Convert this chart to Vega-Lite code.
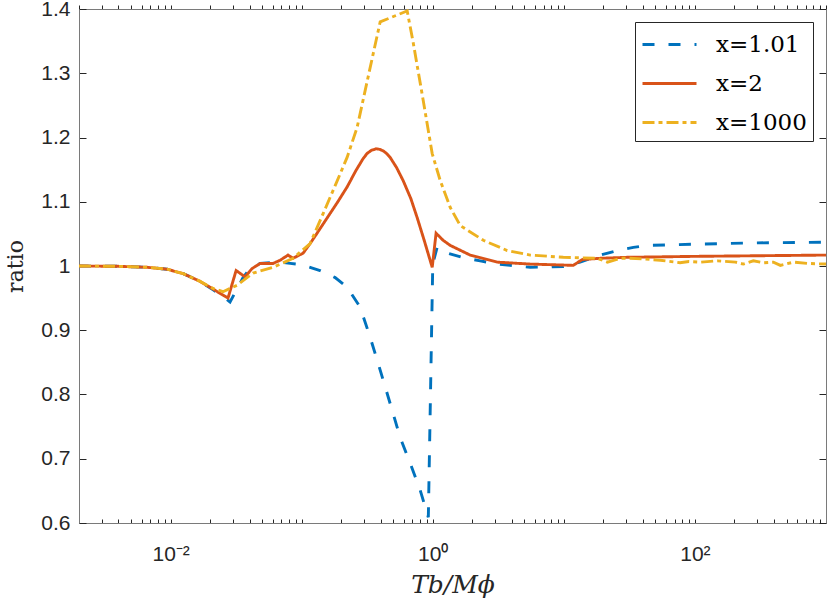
{
  "$schema": "https://vega.github.io/schema/vega-lite/v6.json",
  "width": 747,
  "height": 514,
  "autosize": {"type": "none"},
  "padding": {"left": 79, "top": 9, "right": 4, "bottom": 80},
  "background": "white",
  "config": {
    "view": {"stroke": "#7a7a7a", "strokeWidth": 1},
    "axis": {
      "grid": false,
      "domainColor": "#7a7a7a",
      "tickColor": "#262626",
      "labelColor": "#262626",
      "labelFont": "Liberation Sans",
      "labelFontSize": 21,
      "titleFont": "DejaVu Serif",
      "titleFontWeight": "normal",
      "titleColor": "#262626"
    }
  },
  "data": {
    "values": [
      {"s": "x=1.01", "t": 0.002, "r": 1.0},
      {"s": "x=1.01", "t": 0.004, "r": 0.9995},
      {"s": "x=1.01", "t": 0.0066, "r": 0.998},
      {"s": "x=1.01", "t": 0.0094, "r": 0.995},
      {"s": "x=1.01", "t": 0.0125, "r": 0.988},
      {"s": "x=1.01", "t": 0.0168, "r": 0.976},
      {"s": "x=1.01", "t": 0.0211, "r": 0.963},
      {"s": "x=1.01", "t": 0.0251, "r": 0.953},
      {"s": "x=1.01", "t": 0.0284, "r": 0.944},
      {"s": "x=1.01", "t": 0.0357, "r": 0.982},
      {"s": "x=1.01", "t": 0.0404, "r": 0.996},
      {"s": "x=1.01", "t": 0.0482, "r": 1.004},
      {"s": "x=1.01", "t": 0.0685, "r": 1.006},
      {"s": "x=1.01", "t": 0.0817, "r": 1.004},
      {"s": "x=1.01", "t": 0.1, "r": 1.002},
      {"s": "x=1.01", "t": 0.138, "r": 0.993},
      {"s": "x=1.01", "t": 0.18, "r": 0.982},
      {"s": "x=1.01", "t": 0.222, "r": 0.967},
      {"s": "x=1.01", "t": 0.279, "r": 0.936},
      {"s": "x=1.01", "t": 0.333, "r": 0.889},
      {"s": "x=1.01", "t": 0.397, "r": 0.838},
      {"s": "x=1.01", "t": 0.473, "r": 0.786},
      {"s": "x=1.01", "t": 0.564, "r": 0.733},
      {"s": "x=1.01", "t": 0.673, "r": 0.693},
      {"s": "x=1.01", "t": 0.802, "r": 0.651},
      {"s": "x=1.01", "t": 0.906, "r": 0.615},
      {"s": "x=1.01", "t": 0.925, "r": 0.609},
      {"s": "x=1.01", "t": 1.0, "r": 1.003},
      {"s": "x=1.01", "t": 1.08, "r": 1.029},
      {"s": "x=1.01", "t": 1.3, "r": 1.02},
      {"s": "x=1.01", "t": 1.71, "r": 1.013},
      {"s": "x=1.01", "t": 2.3, "r": 1.008},
      {"s": "x=1.01", "t": 3.1, "r": 1.003},
      {"s": "x=1.01", "t": 5.54, "r": 0.998},
      {"s": "x=1.01", "t": 9.9, "r": 0.999},
      {"s": "x=1.01", "t": 13.3, "r": 1.006},
      {"s": "x=1.01", "t": 19, "r": 1.017},
      {"s": "x=1.01", "t": 25.6, "r": 1.024},
      {"s": "x=1.01", "t": 33.9, "r": 1.029},
      {"s": "x=1.01", "t": 43.4, "r": 1.032},
      {"s": "x=1.01", "t": 100, "r": 1.034},
      {"s": "x=1.01", "t": 300, "r": 1.036},
      {"s": "x=1.01", "t": 1000, "r": 1.037},

      {"s": "x=2", "t": 0.002, "r": 1.0},
      {"s": "x=2", "t": 0.004, "r": 0.9995},
      {"s": "x=2", "t": 0.0066, "r": 0.998},
      {"s": "x=2", "t": 0.0094, "r": 0.995},
      {"s": "x=2", "t": 0.0125, "r": 0.988},
      {"s": "x=2", "t": 0.0168, "r": 0.976},
      {"s": "x=2", "t": 0.0211, "r": 0.964},
      {"s": "x=2", "t": 0.0274, "r": 0.95},
      {"s": "x=2", "t": 0.0316, "r": 0.993},
      {"s": "x=2", "t": 0.037, "r": 0.983},
      {"s": "x=2", "t": 0.0418, "r": 0.996},
      {"s": "x=2", "t": 0.0482, "r": 1.004},
      {"s": "x=2", "t": 0.0605, "r": 1.004},
      {"s": "x=2", "t": 0.0685, "r": 1.009},
      {"s": "x=2", "t": 0.0787, "r": 1.017},
      {"s": "x=2", "t": 0.086, "r": 1.012},
      {"s": "x=2", "t": 0.1025, "r": 1.02},
      {"s": "x=2", "t": 0.116, "r": 1.035},
      {"s": "x=2", "t": 0.13, "r": 1.05},
      {"s": "x=2", "t": 0.165, "r": 1.082},
      {"s": "x=2", "t": 0.19, "r": 1.101},
      {"s": "x=2", "t": 0.222, "r": 1.123},
      {"s": "x=2", "t": 0.26, "r": 1.149},
      {"s": "x=2", "t": 0.294, "r": 1.167},
      {"s": "x=2", "t": 0.315, "r": 1.175},
      {"s": "x=2", "t": 0.34, "r": 1.18},
      {"s": "x=2", "t": 0.37, "r": 1.1825},
      {"s": "x=2", "t": 0.395, "r": 1.1815},
      {"s": "x=2", "t": 0.42, "r": 1.179},
      {"s": "x=2", "t": 0.445, "r": 1.175},
      {"s": "x=2", "t": 0.473, "r": 1.169},
      {"s": "x=2", "t": 0.53, "r": 1.153},
      {"s": "x=2", "t": 0.594, "r": 1.133},
      {"s": "x=2", "t": 0.68, "r": 1.105},
      {"s": "x=2", "t": 0.761, "r": 1.075},
      {"s": "x=2", "t": 0.86, "r": 1.04},
      {"s": "x=2", "t": 0.99, "r": 0.998},
      {"s": "x=2", "t": 1.06, "r": 1.051},
      {"s": "x=2", "t": 1.2, "r": 1.04},
      {"s": "x=2", "t": 1.36, "r": 1.032},
      {"s": "x=2", "t": 1.93, "r": 1.017},
      {"s": "x=2", "t": 3.1, "r": 1.006},
      {"s": "x=2", "t": 5.54, "r": 1.003},
      {"s": "x=2", "t": 11.8, "r": 1.001},
      {"s": "x=2", "t": 13.8, "r": 1.01},
      {"s": "x=2", "t": 19, "r": 1.012},
      {"s": "x=2", "t": 30, "r": 1.0135},
      {"s": "x=2", "t": 100, "r": 1.015},
      {"s": "x=2", "t": 1000, "r": 1.017},

      {"s": "x=1000", "t": 0.002, "r": 1.0},
      {"s": "x=1000", "t": 0.004, "r": 0.9995},
      {"s": "x=1000", "t": 0.0066, "r": 0.998},
      {"s": "x=1000", "t": 0.0094, "r": 0.995},
      {"s": "x=1000", "t": 0.0125, "r": 0.988},
      {"s": "x=1000", "t": 0.0168, "r": 0.976},
      {"s": "x=1000", "t": 0.0211, "r": 0.965},
      {"s": "x=1000", "t": 0.0251, "r": 0.96},
      {"s": "x=1000", "t": 0.0321, "r": 0.97},
      {"s": "x=1000", "t": 0.0426, "r": 0.989},
      {"s": "x=1000", "t": 0.0605, "r": 0.998},
      {"s": "x=1000", "t": 0.086, "r": 1.012},
      {"s": "x=1000", "t": 0.116, "r": 1.035},
      {"s": "x=1000", "t": 0.146, "r": 1.082},
      {"s": "x=1000", "t": 0.18, "r": 1.125},
      {"s": "x=1000", "t": 0.222, "r": 1.169},
      {"s": "x=1000", "t": 0.265, "r": 1.216},
      {"s": "x=1000", "t": 0.321, "r": 1.294},
      {"s": "x=1000", "t": 0.397, "r": 1.38},
      {"s": "x=1000", "t": 0.638, "r": 1.397},
      {"s": "x=1000", "t": 0.71, "r": 1.347},
      {"s": "x=1000", "t": 0.845, "r": 1.258},
      {"s": "x=1000", "t": 0.99, "r": 1.175},
      {"s": "x=1000", "t": 1.08, "r": 1.149},
      {"s": "x=1000", "t": 1.14, "r": 1.133},
      {"s": "x=1000", "t": 1.36, "r": 1.091},
      {"s": "x=1000", "t": 1.62, "r": 1.063},
      {"s": "x=1000", "t": 2.43, "r": 1.04},
      {"s": "x=1000", "t": 3.7, "r": 1.024},
      {"s": "x=1000", "t": 5.54, "r": 1.017},
      {"s": "x=1000", "t": 9.9, "r": 1.0136},
      {"s": "x=1000", "t": 18, "r": 1.012},
      {"s": "x=1000", "t": 21.5, "r": 1.006},
      {"s": "x=1000", "t": 27, "r": 1.012},
      {"s": "x=1000", "t": 32, "r": 1.012},
      {"s": "x=1000", "t": 40, "r": 1.011},
      {"s": "x=1000", "t": 54.5, "r": 1.009},
      {"s": "x=1000", "t": 77, "r": 1.005},
      {"s": "x=1000", "t": 90, "r": 1.007},
      {"s": "x=1000", "t": 110, "r": 1.006},
      {"s": "x=1000", "t": 148, "r": 1.008},
      {"s": "x=1000", "t": 204, "r": 1.006},
      {"s": "x=1000", "t": 234, "r": 1.003},
      {"s": "x=1000", "t": 279, "r": 1.008},
      {"s": "x=1000", "t": 333, "r": 1.005},
      {"s": "x=1000", "t": 397, "r": 1.006},
      {"s": "x=1000", "t": 449, "r": 1.001},
      {"s": "x=1000", "t": 565, "r": 1.006},
      {"s": "x=1000", "t": 721, "r": 1.004},
      {"s": "x=1000", "t": 1000, "r": 1.003}
    ]
  },
  "resolve": {"axis": {"x": "independent", "y": "independent"}},
  "layer": [
    {
      "mark": {"type": "line", "strokeWidth": 2.9, "clip": true, "strokeCap": "butt"},
      "encoding": {
        "x": {
          "field": "t", "type": "quantitative",
          "scale": {"type": "log", "domain": [0.002, 1000], "nice": false},
          "axis": {
            "orient": "bottom",
            "title": "Tb/Mϕ",
            "titleFontStyle": "italic",
            "titleFontSize": 25,
            "titlePadding": 8,
            "values": [0.002,0.003,0.004,0.005,0.006,0.007,0.008,0.009,0.01,0.02,0.03,0.04,0.05,0.06,0.07,0.08,0.09,0.1,0.2,0.3,0.4,0.5,0.6,0.7,0.8,0.9,1,2,3,4,5,6,7,8,9,10,20,30,40,50,60,70,80,90,100,200,300,400,500,600,700,800,900,1000],
            "labelExpr": "datum.value == 0.01 ? '10⁻²' : datum.value == 1 ? '10⁰' : datum.value == 100 ? '10²' : ''",
            "labelOverlap": false,
            "labelFlush": false,
            "tickSize": -4,
            "labelPadding": 24,
            "encode": {"ticks": {"y2": {"condition": {"test": "datum.value == 0.01 || datum.value == 1 || datum.value == 100", "value": -7}, "value": -4}}}
          }
        },
        "y": {
          "field": "r", "type": "quantitative",
          "scale": {"domain": [0.6, 1.4], "nice": false, "zero": false},
          "axis": {
            "orient": "left",
            "title": "ratio",
            "titleFontSize": 22,
            "titlePadding": 13,
            "values": [0.6,0.7,0.8,0.9,1,1.1,1.2,1.3,1.4],
            "format": "~g",
            "tickSize": -7,
            "labelPadding": 16
          }
        },
        "color": {
          "field": "s", "type": "nominal",
          "scale": {"domain": ["x=1.01", "x=2", "x=1000"], "range": ["#0072BD", "#D95319", "#EDB120"]},
          "legend": {
            "orient": "top-right",
            "offset": 13,
            "title": null,
            "strokeColor": "#262626",
            "fillColor": "white",
            "padding": 6,
            "labelFont": "DejaVu Serif",
            "labelFontSize": 23,
            "labelColor": "black",
            "labelOffset": 30,
            "symbolType": "M-1.8,0H1.8",
            "symbolSize": 900,
            "symbolOffset": 12,
            "symbolStrokeWidth": 2.9,
            "rowPadding": 10
          }
        },
        "strokeDash": {
          "field": "s", "type": "nominal",
          "scale": {"domain": ["x=1.01", "x=2", "x=1000"], "range": [[12, 14], [1, 0], [12, 4, 4, 4]]},
          "legend": null
        }
      }
    },
    {
      "mark": {"type": "line", "opacity": 0},
      "encoding": {
        "x": {
          "field": "t", "type": "quantitative",
          "axis": {
            "orient": "top", "title": null, "labels": false,
            "values": [0.002,0.003,0.004,0.005,0.006,0.007,0.008,0.009,0.01,0.02,0.03,0.04,0.05,0.06,0.07,0.08,0.09,0.1,0.2,0.3,0.4,0.5,0.6,0.7,0.8,0.9,1,2,3,4,5,6,7,8,9,10,20,30,40,50,60,70,80,90,100,200,300,400,500,600,700,800,900,1000],
            "tickSize": 4,
            "encode": {"ticks": {"y2": {"condition": {"test": "datum.value == 0.01 || datum.value == 1 || datum.value == 100", "value": 7}, "value": 4}}}
          }
        },
        "y": {
          "field": "r", "type": "quantitative",
          "axis": {
            "orient": "right", "title": null, "labels": false,
            "values": [0.6,0.7,0.8,0.9,1,1.1,1.2,1.3,1.4],
            "tickSize": -7
          }
        }
      }
    }
  ]
}
